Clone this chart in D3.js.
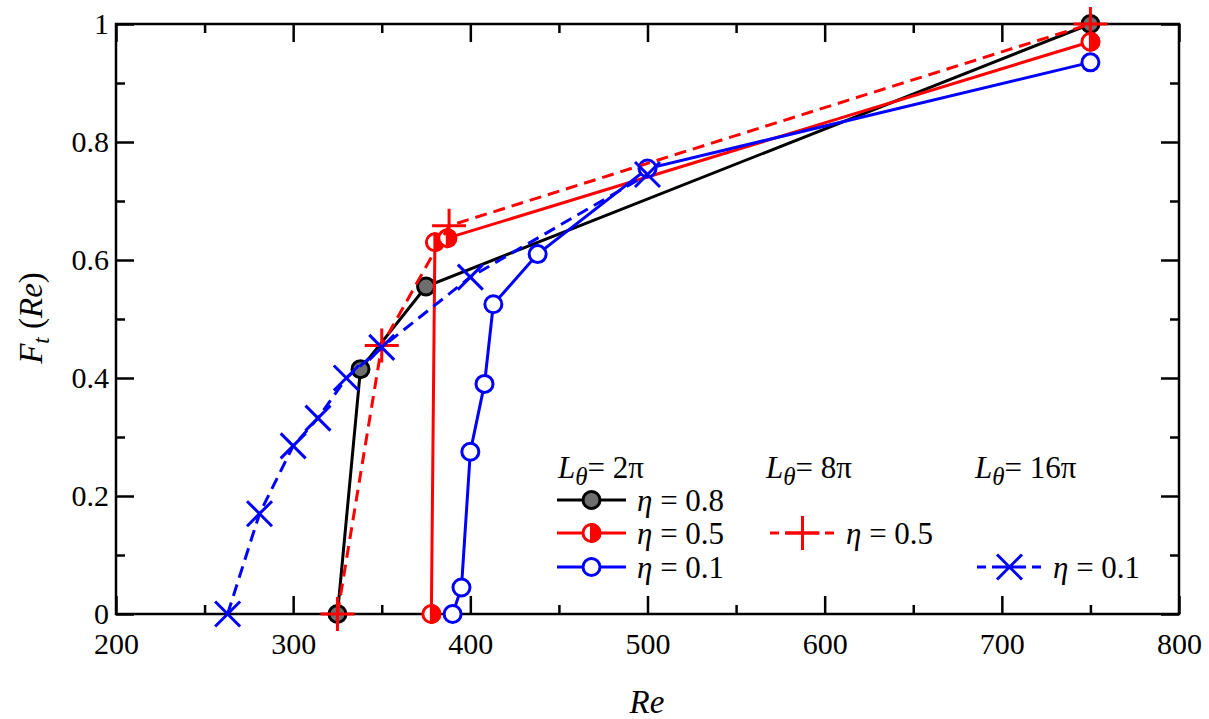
<!DOCTYPE html>
<html>
<head>
<meta charset="utf-8">
<script src="https://cdn.jsdelivr.net/npm/d3@7"></script>
</head>
<body style="margin:0">
<svg id="chart" width="1209" height="719" font-family="Liberation Serif"></svg>
<script>
var box = {left: 116, right: 1179, top: 24, bottom: 614};
var serif = "'Liberation Serif'";

// L = 2pi, eta = 0.8
var re08 = [325, 338, 375, 750];
var ft08 = [0, 0.415, 0.555, 1.0];
// L = 2pi, eta = 0.5
var re05 = [378, 380, 387, 750];
var ft05 = [0, 0.63, 0.637, 0.97];
// L = 2pi, eta = 0.1
var re01 = [390, 395, 400, 408, 413, 438, 500, 750];
var ft01 = [0, 0.045, 0.275, 0.39, 0.525, 0.61, 0.755, 0.935];
// L = 8pi, eta = 0.5
var re8pi = [325, 350, 388, 750];
var ft8pi = [0, 0.455, 0.658, 1.0];
// L = 16pi, eta = 0.1
var re16pi = [263, 281, 300, 314, 330, 350, 400, 500];
var ft16pi = [0, 0.17, 0.285, 0.332, 0.4, 0.452, 0.571, 0.745];

var xMajor = [200, 300, 400, 500, 600, 700, 800];
var xMinor = [250, 350, 450, 550, 650, 750];
var yMajor = [0, 0.2, 0.4, 0.6, 0.8, 1];
var yMinor = [0.1, 0.3, 0.5, 0.7, 0.9];

var zip = function(xs, ys) { return xs.map(function(x, i) { return {re: x, ft: ys[i]}; }); };

var series = [
  {name: "eta08", data: zip(re08, ft08), color: "#000", dash: null, marker: "gray"},
  {name: "eta05", data: zip(re05, ft05), color: "#f00", dash: null, marker: "half"},
  {name: "eta01", data: zip(re01, ft01), color: "#00f", dash: null, marker: "open"},
  {name: "eta05L8", data: zip(re8pi, ft8pi), color: "#f00", dash: "12,7", marker: "plus"},
  {name: "eta01L16", data: zip(re16pi, ft16pi), color: "#00f", dash: "12,7", marker: "cross"}
];

var svg = d3.select("#chart");

var xScale = d3.scaleLinear().domain([200, 800]).range([box.left, box.right]);
var yScale = d3.scaleLinear().domain([0, 1]).range([box.bottom, box.top]);

var fmtY = function(d) { return (d === 0 || d === 1) ? String(d) : d.toFixed(1); };

// ticks, all pointing inward
var addAxis = function(axis, transform) {
  var g = svg.append("g").attr("transform", transform).call(axis);
  g.select(".domain").remove();
  g.selectAll("line").attr("stroke", "#000").attr("stroke-width", 2.5);
  g.selectAll("text").attr("fill", "#000")
    .style("font-family", serif).style("font-size", "30px");
  return g;
};

addAxis(d3.axisBottom(xScale).tickValues(xMajor).tickSize(-18).tickFormat(d3.format("d")),
  "translate(0," + box.bottom + ")")
  .selectAll("text").attr("y", 19).attr("dy", "0.71em");
addAxis(d3.axisBottom(xScale).tickValues(xMinor).tickSize(-9).tickFormat(""), "translate(0," + box.bottom + ")");
addAxis(d3.axisTop(xScale).tickValues(xMajor).tickSize(-18).tickFormat(""), "translate(0," + box.top + ")");
addAxis(d3.axisTop(xScale).tickValues(xMinor).tickSize(-9).tickFormat(""), "translate(0," + box.top + ")");

addAxis(d3.axisLeft(yScale).tickValues(yMajor).tickSize(-18).tickFormat(fmtY),
  "translate(" + box.left + ",0)")
  .selectAll("text").attr("x", -7);
addAxis(d3.axisLeft(yScale).tickValues(yMinor).tickSize(-9).tickFormat(""), "translate(" + box.left + ",0)");
addAxis(d3.axisRight(yScale).tickValues(yMajor).tickSize(-18).tickFormat(""), "translate(" + box.right + ",0)");
addAxis(d3.axisRight(yScale).tickValues(yMinor).tickSize(-9).tickFormat(""), "translate(" + box.right + ",0)");

svg.append("rect")
  .attr("x", box.left).attr("y", box.top)
  .attr("width", box.right - box.left).attr("height", box.bottom - box.top)
  .attr("fill", "none").attr("stroke", "#000").attr("stroke-width", 2.5);

// axis titles
svg.append("text")
  .attr("x", 647).attr("y", 713)
  .attr("text-anchor", "middle")
  .style("font-family", serif).style("font-size", "33px").style("font-style", "italic")
  .text("Re");

var yt = svg.append("text")
  .attr("transform", "translate(42,318) rotate(-90)")
  .attr("text-anchor", "middle")
  .style("font-family", serif).style("font-size", "33px");
yt.append("tspan").style("font-style", "italic").text("F");
yt.append("tspan").style("font-style", "italic").style("font-size", "23px").attr("dy", 7).text("t");
yt.append("tspan").attr("dy", -7).text(" (");
yt.append("tspan").style("font-style", "italic").text("Re");
yt.append("tspan").text(")");

// markers
var drawMarker = function(g, type, color, cx, cy) {
  var r = 8.5;
  if (type === "gray") {
    g.append("circle").attr("cx", cx).attr("cy", cy).attr("r", r)
      .attr("fill", "#6e6e6e").attr("stroke", color).attr("stroke-width", 3);
  } else if (type === "open") {
    g.append("circle").attr("cx", cx).attr("cy", cy).attr("r", r)
      .attr("fill", "#fff").attr("stroke", color).attr("stroke-width", 3);
  } else if (type === "half") {
    g.append("circle").attr("cx", cx).attr("cy", cy).attr("r", r)
      .attr("fill", "#fff").attr("stroke", color).attr("stroke-width", 3);
    g.append("path")
      .attr("d", "M" + cx + "," + (cy - r) + "A" + r + "," + r + " 0 0 1 " + cx + "," + (cy + r) + "Z")
      .attr("fill", color).attr("stroke", color).attr("stroke-width", 3);
  } else if (type === "plus") {
    var s = 17;
    g.append("path")
      .attr("d", "M" + (cx - s) + "," + cy + "H" + (cx + s) + "M" + cx + "," + (cy - s) + "V" + (cy + s))
      .attr("stroke", color).attr("stroke-width", 3).attr("fill", "none");
  } else if (type === "cross") {
    var c = 12.5;
    g.append("path")
      .attr("d", "M" + (cx - c) + "," + (cy - c) + "L" + (cx + c) + "," + (cy + c) +
                 "M" + (cx - c) + "," + (cy + c) + "L" + (cx + c) + "," + (cy - c))
      .attr("stroke", color).attr("stroke-width", 3).attr("fill", "none");
  }
};

var lineGenerator = d3.line()
  .x(function(d) { return xScale(d.re); })
  .y(function(d) { return yScale(d.ft); });

var plot = svg.append("g").attr("id", "plot");

series.forEach(function(s) {
  var g = plot.append("g").attr("id", s.name);
  g.append("path")
    .datum(s.data)
    .attr("d", lineGenerator)
    .attr("fill", "none")
    .attr("stroke", s.color)
    .attr("stroke-width", 3)
    .attr("stroke-dasharray", s.dash);
  s.data.forEach(function(d) {
    drawMarker(g, s.marker, s.color, xScale(d.re), yScale(d.ft));
  });
});

// legend
var legend = svg.append("g").attr("id", "legend");

var header = function(x, y, val) {
  var t = legend.append("text").attr("x", x).attr("y", y)
    .style("font-family", serif).style("font-size", "31px");
  t.append("tspan").style("font-style", "italic").text("L");
  t.append("tspan").style("font-style", "italic").style("font-size", "25px").attr("dy", 7).text("\u03b8");
  t.append("tspan").attr("dy", -7).text("= " + val);
};
header(558, 478, "2\u03c0");
header(766, 478, "8\u03c0");
header(975, 478, "16\u03c0");

var legendRows = [
  {s: series[0], x: 557, y: 500, label: "0.8"},
  {s: series[1], x: 557, y: 533, label: "0.5"},
  {s: series[2], x: 557, y: 567, label: "0.1"},
  {s: series[3], x: 770, y: 533, label: "0.5"},
  {s: series[4], x: 977, y: 567, label: "0.1"}
];

legendRows.forEach(function(r) {
  var w = r.s.dash ? 65 : 69;
  legend.append("line")
    .attr("x1", r.x).attr("x2", r.x + w)
    .attr("y1", r.y).attr("y2", r.y)
    .attr("stroke", r.s.color).attr("stroke-width", 3)
    .attr("stroke-dasharray", r.s.dash ? "9,6,0,0,34,6,9" : null);
  drawMarker(legend, r.s.marker, r.s.color, r.x + w / 2, r.y);
  var t = legend.append("text")
    .attr("x", r.x + w + 11).attr("y", r.y + 11)
    .style("font-family", serif).style("font-size", "31px");
  t.append("tspan").style("font-style", "italic").text("\u03b7");
  t.append("tspan").text(" = " + r.label);
});
</script>
</body>
</html>
